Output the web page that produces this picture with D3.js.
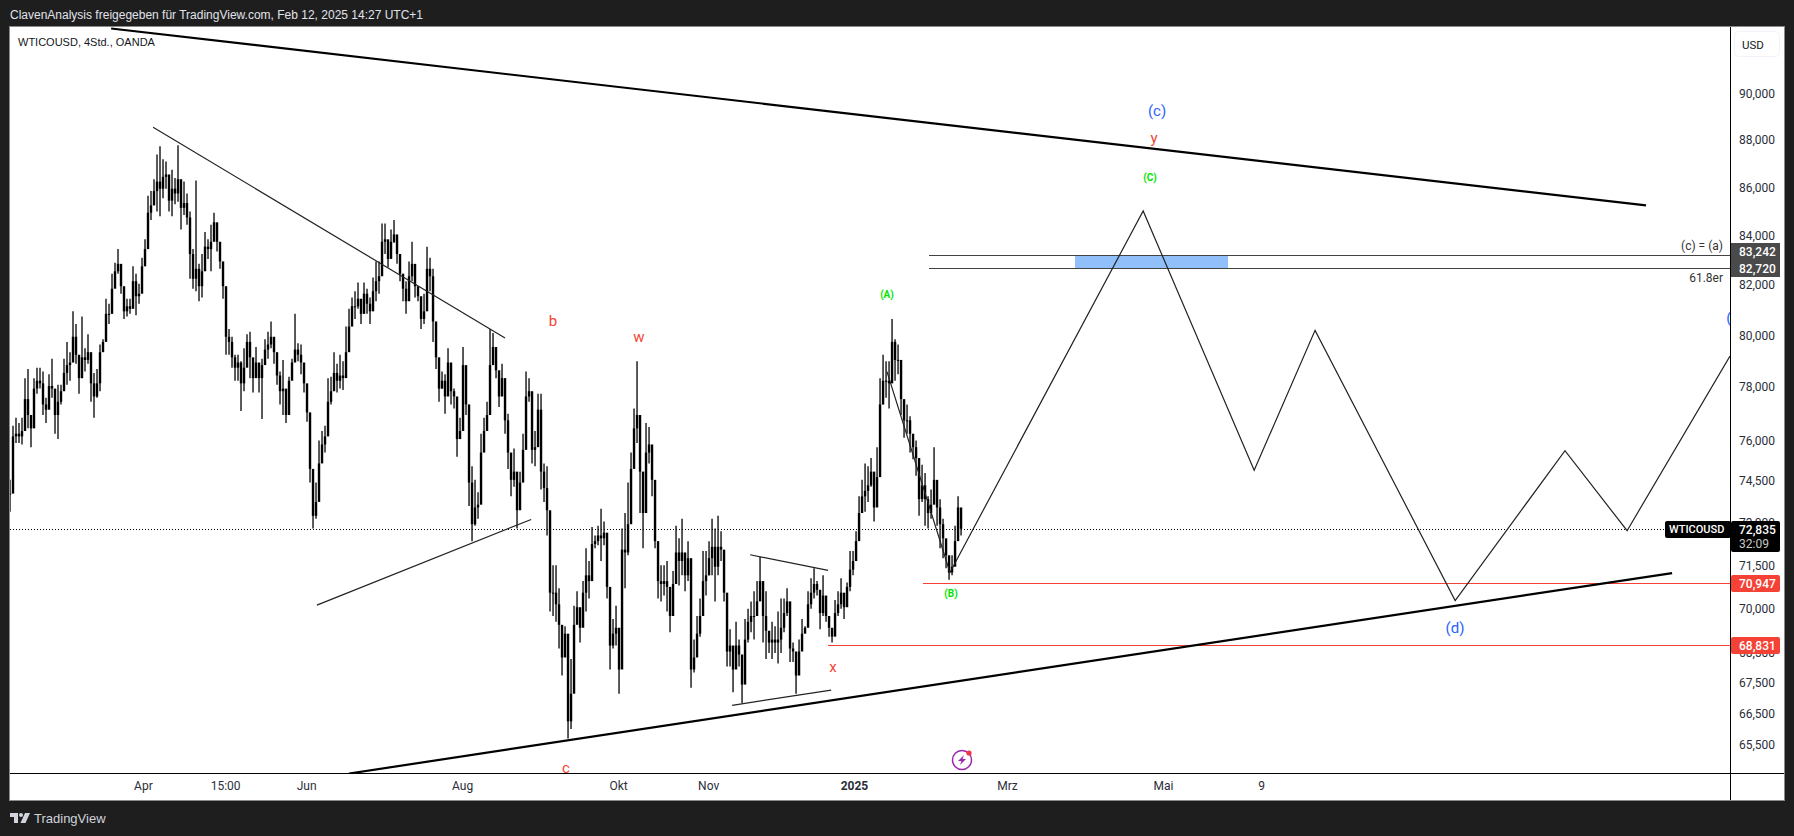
<!DOCTYPE html>
<html>
<head>
<meta charset="utf-8">
<script src="https://cdn.jsdelivr.net/npm/d3@7"></script>
<style>
  html, body { margin: 0; padding: 0; background: #1e1e1e; }
  svg { display: block; font-family: Roboto, sans-serif; }
</style>
</head>
<body>
<svg id="chart" width="1794" height="836"></svg>
<script>
// 4h bars thinned to one entry per 3px of the original chart, prices
const highs = [
  74.60,76.60,76.90,76.70,76.90,78.40,78.75,76.70,78.40,78.80,78.80,78.65,77.65,78.55,79.15,77.80,78.15,78.15,79.15,79.80,
  79.40,81.00,80.50,79.05,80.80,79.55,80.10,79.05,78.60,78.75,79.70,79.90,81.50,81.30,82.50,82.95,83.50,82.30,81.80,81.50,
  81.50,82.80,82.50,82.10,83.15,83.90,85.70,85.90,86.40,87.45,87.80,87.25,87.15,85.90,86.80,86.45,87.85,86.00,86.30,85.80,
  85.05,83.50,86.35,82.90,83.30,84.20,83.90,84.50,85.00,84.30,83.70,82.60,81.90,80.30,80.00,79.30,79.30,79.05,79.55,80.10,
  80.20,79.05,79.60,78.95,79.15,79.90,80.20,80.60,79.80,78.85,78.65,79.10,77.45,78.45,79.15,80.90,79.75,79.70,78.95,77.60,
  76.80,74.00,74.50,76.05,76.40,76.60,78.40,78.45,79.40,78.95,79.30,79.05,80.40,81.10,81.55,81.80,82.15,81.30,82.15,81.90,
  81.55,82.35,83.00,83.00,84.55,84.55,83.75,84.30,84.70,83.70,82.95,82.50,82.20,83.00,83.80,82.60,81.95,81.30,81.70,83.60,
  83.15,82.70,79.80,79.15,78.65,78.55,79.55,78.55,78.00,76.80,76.90,79.60,77.95,76.05,75.10,74.60,74.15,76.30,76.90,77.50,
  80.30,80.15,79.15,78.00,78.95,77.15,77.05,75.20,75.75,74.25,74.90,76.30,78.65,78.40,76.30,76.40,77.80,77.80,75.20,75.10,
  72.25,71.55,71.55,70.75,69.45,69.45,66.80,68.35,70.15,70.65,69.95,71.00,72.15,71.70,72.90,72.60,72.95,73.55,73.10,71.10,
  69.80,69.70,70.15,69.10,72.85,73.40,74.50,75.60,77.25,79.05,75.95,74.85,76.70,76.55,75.30,72.60,71.70,71.55,71.55,71.70,
  70.30,71.35,72.95,72.50,73.20,71.55,72.40,68.90,69.00,69.80,70.40,72.05,72.05,72.40,73.20,72.85,73.30,72.75,71.00,69.10,
  69.35,68.70,69.60,69.00,68.00,69.70,70.05,70.30,70.65,71.00,71.85,70.75,70.65,69.25,69.60,69.45,69.95,70.40,70.40,70.75,
  69.00,68.90,68.25,69.00,69.70,69.45,70.65,71.10,71.45,71.00,70.40,71.20,70.05,69.70,69.25,70.35,70.65,71.10,70.40,70.95,
  72.05,72.05,72.75,74.00,74.60,75.20,75.10,75.40,74.15,75.80,78.40,79.30,79.05,79.05,80.70,79.90,79.70,78.30,77.50,77.40,
  76.95,76.15,76.05,74.60,75.15,74.85,74.00,74.25,75.80,74.25,73.90,73.20,72.40,71.70,71.90,72.95,74.00,73.55
]
const lows = [
  73.45,75.80,75.95,75.95,75.90,77.00,76.50,75.80,77.65,77.80,78.00,77.00,76.70,77.65,77.65,76.30,76.10,77.40,78.00,78.15,
  78.30,79.40,78.95,77.80,78.40,78.65,78.95,77.50,76.90,77.65,77.90,79.55,80.10,80.50,81.10,82.20,82.50,81.70,80.70,80.80,
  80.90,81.55,80.85,81.30,81.90,82.90,84.20,84.70,85.45,85.05,84.85,85.60,86.00,85.05,84.85,85.35,85.45,84.30,84.90,84.50,
  82.30,81.90,81.80,81.40,81.55,82.90,83.10,82.60,84.10,83.40,82.70,81.50,79.30,79.30,78.80,78.30,78.30,77.15,77.90,79.40,
  78.40,77.85,78.65,77.85,76.85,79.05,79.15,79.55,78.95,78.15,77.40,77.00,76.70,78.15,78.95,79.15,79.05,78.55,77.85,76.75,
  74.50,72.85,73.20,74.35,75.45,75.60,76.30,77.40,78.15,77.85,78.00,77.95,78.65,79.70,80.80,80.70,81.10,80.50,81.30,80.90,
  80.50,81.10,81.40,81.70,83.00,83.30,82.75,83.30,83.75,82.90,82.20,81.40,80.90,81.80,82.20,81.55,81.40,80.30,80.50,81.95,
  81.80,79.80,78.75,77.50,78.00,77.05,78.55,77.40,77.25,75.45,76.15,78.40,77.00,73.65,72.40,72.95,73.20,75.10,76.05,76.40,
  77.50,79.15,78.40,77.30,77.90,76.30,75.00,74.00,74.35,72.85,74.15,75.10,76.80,77.50,75.20,75.10,76.50,74.25,73.80,72.60,
  69.95,69.80,69.60,68.70,67.80,68.90,65.75,66.05,68.90,69.60,68.90,70.15,69.95,70.40,71.70,72.15,72.25,71.70,72.25,70.40,
  68.00,68.70,68.80,67.20,71.45,70.75,71.90,74.30,75.70,75.95,73.40,72.15,74.50,75.20,74.00,72.15,70.40,70.30,70.50,69.95,
  69.25,70.30,71.20,70.85,71.20,70.65,71.00,67.40,67.90,68.55,69.10,69.95,70.50,71.20,71.20,70.30,71.20,71.70,70.30,68.10,
  68.10,67.25,68.10,68.10,66.90,68.25,68.90,69.25,69.00,69.80,70.65,68.90,68.35,68.55,68.35,68.55,68.20,68.55,69.25,69.80,
  68.25,68.25,67.20,68.10,68.70,69.25,69.70,70.05,70.40,70.50,69.35,69.80,69.60,69.10,68.90,69.35,69.80,70.05,69.70,70.65,
  70.65,71.20,72.05,72.75,73.45,73.45,73.80,74.35,73.10,73.90,76.30,77.40,77.65,77.25,78.80,78.30,78.55,77.00,76.15,76.30,
  75.60,75.35,74.75,73.30,73.80,72.95,72.85,73.20,73.80,72.95,72.15,71.80,71.45,71.05,71.20,71.80,73.20,72.60
]
const closes = [
  74.1,76.2,76.3,76.2,76.4,77.6,77.0,76.5,78.0,78.3,78.2,77.4,77.2,78.1,78.0,77.0,77.5,77.9,78.6,78.9,
  79.0,80.0,79.3,78.4,79.2,79.1,79.4,78.2,77.7,78.2,79.4,79.8,80.9,80.9,81.9,82.6,82.9,82.0,81.0,81.2,
  81.1,82.2,81.6,81.7,82.8,83.5,85.0,85.3,85.9,86.3,86.0,86.5,86.6,85.5,86.0,85.8,86.4,85.2,85.4,84.8,
  83.3,82.3,82.7,82.0,82.6,83.6,83.5,83.8,84.6,83.8,83.0,82.0,80.0,79.8,79.2,78.8,79.0,78.2,78.8,79.8,
  79.2,78.4,79.0,78.4,78.9,79.5,79.7,80.0,79.4,78.5,77.9,78.0,77.0,78.3,79.0,79.5,79.3,79.0,78.2,77.1,
  75.0,73.3,73.8,75.2,75.9,76.2,77.5,77.9,78.6,78.3,78.5,78.4,79.4,80.4,81.2,81.2,81.5,80.9,81.7,81.3,
  81.0,81.8,82.2,82.4,83.8,83.9,83.1,83.8,84.1,83.3,82.5,81.9,81.4,82.4,82.9,82.0,81.6,80.7,81.0,82.7,
  82.4,80.6,79.2,78.0,78.3,77.7,79.0,77.9,77.7,76.1,76.4,78.9,77.4,74.5,73.0,73.6,73.7,75.6,76.4,77.0,
  78.9,79.6,78.7,77.7,78.4,76.8,75.6,74.6,74.9,73.5,74.5,75.7,77.7,77.9,75.7,75.8,77.2,74.9,74.3,73.5,
  70.6,70.6,70.2,69.5,68.4,69.2,66.3,67.2,69.5,70.1,69.4,70.6,71.2,71.0,72.3,72.4,72.6,72.5,72.7,70.8,
  68.8,69.2,69.4,68.0,72.1,72.0,73.0,75.0,76.5,77.0,74.9,73.4,75.6,75.9,74.6,72.4,71.0,70.9,71.0,70.8,
  69.8,70.9,72.0,71.7,72.0,71.2,71.8,68.0,68.4,69.2,69.8,71.0,71.2,71.8,72.2,71.5,72.2,72.1,70.6,68.6,
  68.8,68.0,68.8,68.5,67.5,69.0,69.6,69.8,69.8,70.3,71.0,69.8,69.3,68.9,69.0,68.9,69.0,69.4,69.9,70.3,
  68.7,68.6,67.8,68.6,69.2,69.4,70.2,70.6,70.9,70.7,69.9,70.5,69.8,69.4,69.1,69.9,70.2,70.6,70.1,70.8,
  71.4,71.7,72.4,73.4,74.0,74.2,74.4,74.9,73.6,74.7,77.4,78.3,78.3,78.2,79.8,79.1,79.1,77.6,76.8,76.8,
  76.3,75.8,75.4,73.9,74.4,73.9,73.4,73.7,74.6,73.6,73.0,72.5,71.9,71.3,71.5,72.4,73.6,72.84
]

// axis labels
const priceTicks = [90, 88, 86, 84, 82, 80, 78, 76, 74.5, 73, 71.5, 70, 68.5, 67.5, 66.5, 65.5]
const timeTicks = [44.3, 71.7, 98.7, 150.7, 202.7, 232.7, 281.3, 332.3, 384.3, 417]
const timeLabels = ["Apr", "15:00", "Jun", "Aug", "Okt", "Nov", "2025", "Mrz", "Mai", "9"]

// drawings, as [bar, price]
const thickLines = [
  [[33.7, 93.0], [545.3, 85.3]],
  [[113, 64.63], [554, 71.28]]
]
const thinLines = [
  [[47.7, 88.62], [165, 79.95]],
  [[102.3, 70.17], [173.7, 73.17]],
  [[246.7, 71.92], [272.7, 71.37]],
  [[240.7, 66.82], [273.7, 67.32]]
]
const projection = [
  [292.3, 78.65], [313.3, 71.3], [377.7, 85.07], [414.7, 74.95], [435, 80.25],
  [481.7, 70.33], [518.3, 75.67], [539, 72.77], [573.3, 79.25]
]
const lastPrice = 72.835
const fibHigh = 83.242
const fibLow = 82.72
const stopHigh = 70.947
const stopLow = 68.831

const fmt = d3.formatLocale({ decimal: ",", thousands: ".", grouping: [3], currency: ["", "$"] }).format(".3f")

const svg = d3.select("#chart")

const plotLeft = 10, plotTop = 27, plotRight = 1730, plotBottom = 773, outerRight = 1784, outerBottom = 800
const yOffset = 1.5  // tick labels sit a little above their price level

const x = d3.scaleLinear().domain([0, 573.3]).range([plotLeft, plotRight])
const y = d3.scaleLog().domain([64.6, 93.0]).range([plotBottom + yOffset, plotTop + yOffset])
const yLine = p => Math.round(y(p)) + 0.5

// Frame
svg.append("rect")
  .attr("x", plotLeft - 0.5).attr("y", plotTop - 0.5)
  .attr("width", outerRight - plotLeft + 1).attr("height", outerBottom - plotTop + 1)
  .attr("fill", "#fff").attr("stroke", "#8a8a8a")

svg.append("clipPath").attr("id", "plot")
  .append("rect")
  .attr("x", plotLeft).attr("y", plotTop)
  .attr("width", plotRight - plotLeft).attr("height", plotBottom - plotTop)

const g = svg.append("g").attr("clip-path", "url(#plot)")

// Fib zone
g.append("rect")
  .attr("x", x(355)).attr("width", x(406) - x(355))
  .attr("y", yLine(fibHigh)).attr("height", yLine(fibLow) - yLine(fibHigh))
  .attr("fill", "#90bff9")

// Last price line
g.append("line")
  .attr("x1", plotLeft).attr("x2", 1665)
  .attr("y1", yLine(lastPrice)).attr("y2", yLine(lastPrice))
  .attr("stroke", "#000").attr("stroke-dasharray", "1,2")

// Bars
const bars = g.append("g").selectAll("g")
  .data(d3.range(highs.length))
  .join("g")

bars.append("line")
  .attr("x1", i => x(i)).attr("x2", i => x(i))
  .attr("y1", i => y(highs[i])).attr("y2", i => y(lows[i]))
  .attr("stroke", "#000").attr("stroke-width", 1.3)

bars.append("rect")
  .attr("x", i => x(i) - 1.2)
  .attr("width", 2.4)
  .attr("y", i => y(Math.max(closes[i], closes[Math.max(i - 1, 0)])))
  .attr("height", i => Math.max(1, Math.abs(y(closes[i]) - y(closes[Math.max(i - 1, 0)]))))
  .attr("fill", "#000")

// Horizontal levels
const levels = [
  { price: fibHigh, bar: 306.3, color: "#434343" },
  { price: fibLow, bar: 306.3, color: "#434343" },
  { price: stopHigh, bar: 304.3, color: "#f44336" },
  { price: stopLow, bar: 272.7, color: "#f44336" }
]
g.selectAll(".level")
  .data(levels)
  .join("line")
  .attr("class", "level")
  .attr("x1", d => x(d.bar)).attr("x2", plotRight)
  .attr("y1", d => yLine(d.price)).attr("y2", d => yLine(d.price))
  .attr("stroke", d => d.color).attr("stroke-width", 1)
  .attr("shape-rendering", "crispEdges")

// Trend lines
const lineGen = d3.line().x(d => x(d[0])).y(d => y(d[1]))

g.selectAll(".thin")
  .data(thinLines)
  .join("path")
  .attr("class", "thin")
  .attr("d", lineGen)
  .attr("fill", "none").attr("stroke", "#222").attr("stroke-width", 1.2)

g.selectAll(".thick")
  .data(thickLines)
  .join("path")
  .attr("class", "thick")
  .attr("d", lineGen)
  .attr("fill", "none").attr("stroke", "#000").attr("stroke-width", 2.2)

g.append("path")
  .attr("d", lineGen(projection))
  .attr("fill", "none").attr("stroke", "#222").attr("stroke-width", 1.2)

// Wave labels
const BLUE = "#2962ff", RED = "#f44336", GREEN = "#00e600"
const waveLabels = [
  ["(c)", 1157, 111, BLUE, 15, 400],
  ["y", 1154, 138, RED, 15, 400],
  ["(C)", 1150, 177, GREEN, 10, 700],
  ["(A)", 887, 294, GREEN, 10, 700],
  ["(B)", 951, 593, GREEN, 10, 700],
  ["b", 553, 321, RED, 15, 400],
  ["w", 639, 337, RED, 15, 400],
  ["x", 833, 667, RED, 15, 400],
  ["c", 566, 768, RED, 15, 400],
  ["(d)", 1455, 628, BLUE, 15, 400],
  ["(e)", 1735.5, 318, BLUE, 15, 400]
]
g.selectAll(".wave")
  .data(waveLabels)
  .join("text")
  .attr("class", "wave")
  .attr("x", d => d[1]).attr("y", d => d[2])
  .attr("dy", "0.35em")
  .attr("text-anchor", "middle")
  .attr("fill", d => d[3])
  .attr("font-size", d => d[4])
  .attr("font-weight", d => d[5])
  .text(d => d[0])

g.append("text").attr("x", 1723).attr("y", 246).attr("dy", "0.35em").attr("text-anchor", "end")
  .attr("font-size", 12).attr("fill", "#333").text("(c) = (a)")
g.append("text").attr("x", 1723).attr("y", 278).attr("dy", "0.35em").attr("text-anchor", "end")
  .attr("font-size", 12).attr("fill", "#333").text("61.8er")

// Event icon
const icon = g.append("g").attr("transform", "translate(962,760)")
icon.append("circle").attr("r", 9.5).attr("fill", "#fff").attr("stroke", "#9c27b0").attr("stroke-width", 1.5)
icon.append("path").attr("d", "M2,-5 L-4,1 L-0.5,1 L-2,5 L4,-1 L0.5,-1 Z").attr("fill", "#9c27b0")
icon.append("circle").attr("cx", 7).attr("cy", -7).attr("r", 2.6).attr("fill", "#f23645")

// Axes
const yAxis = d3.axisRight(y).tickValues(priceTicks).tickSize(0).tickPadding(9).tickFormat(fmt)
const yG = svg.append("g").attr("transform", `translate(${plotRight},${-yOffset})`).call(yAxis)
yG.select(".domain").remove()
yG.selectAll("text").attr("font-size", 12).attr("font-family", "Roboto").attr("fill", "#2a2e39")

const xAxis = d3.axisBottom(x).tickValues(timeTicks).tickSize(0).tickPadding(8)
  .tickFormat((d, i) => timeLabels[i])
const xG = svg.append("g").attr("transform", `translate(0,${plotBottom})`).call(xAxis)
xG.select(".domain").remove()
xG.selectAll("text").attr("font-size", 12).attr("font-family", "Roboto").attr("fill", "#2a2e39")
  .attr("font-weight", d => d === 281.3 ? 700 : 400)

// Axis borders
svg.append("line").attr("x1", plotRight + 0.5).attr("x2", plotRight + 0.5).attr("y1", plotTop).attr("y2", outerBottom).attr("stroke", "#000")
svg.append("line").attr("x1", plotLeft).attr("x2", outerRight).attr("y1", plotBottom + 0.5).attr("y2", plotBottom + 0.5).attr("stroke", "#000")

// Currency button
svg.append("rect").attr("x", 1734.5).attr("y", 31.5).attr("width", 45).attr("height", 25).attr("rx", 4)
  .attr("fill", "#fff").attr("stroke", "#f0f3fa")
svg.append("text").attr("x", 1753).attr("y", 44.5).attr("dy", "0.35em").attr("text-anchor", "middle")
  .attr("font-size", 11.5).attr("fill", "#131722").text("USD")

// Price tags, the two fib tags are pushed apart so they stack
const tags = [
  { price: fibHigh, color: "#4a4a4a", nudge: -4 },
  { price: fibLow, color: "#4a4a4a", nudge: 0 },
  { price: stopHigh, color: "#f44336", nudge: 0 },
  { price: stopLow, color: "#f44336", nudge: 0 }
]
const tag = svg.selectAll(".tag").data(tags).join("g").attr("class", "tag")
tag.append("rect")
  .attr("x", plotRight + 1).attr("width", 49)
  .attr("y", d => yLine(d.price) + d.nudge - 8.5).attr("height", 17)
  .attr("rx", d => d.color === "#f44336" ? 2 : 0)
  .attr("fill", d => d.color)
tag.append("text")
  .attr("x", plotRight + 9).attr("y", d => yLine(d.price) + d.nudge).attr("dy", "0.35em")
  .attr("font-size", 12).attr("font-weight", 500).attr("fill", "#fff")
  .text(d => fmt(d.price))

// Last price tag
const yLast = yLine(lastPrice)
svg.append("rect").attr("x", 1665).attr("y", yLast - 8.5).attr("width", 66).attr("height", 17).attr("rx", 2).attr("fill", "#000")
svg.append("rect").attr("x", plotRight + 1).attr("y", yLast - 8.5).attr("width", 49).attr("height", 31).attr("rx", 2).attr("fill", "#000")
svg.append("text").attr("x", 1669).attr("y", yLast).attr("dy", "0.35em").attr("font-size", 11).attr("font-weight", 500)
  .attr("fill", "#fff").text("WTICOUSD")
svg.append("text").attr("x", plotRight + 9).attr("y", yLast).attr("dy", "0.35em").attr("font-size", 12).attr("font-weight", 500)
  .attr("fill", "#fff").text(fmt(lastPrice))
svg.append("text").attr("x", plotRight + 9).attr("y", yLast + 14).attr("dy", "0.35em").attr("font-size", 12)
  .attr("fill", "#c8c8c8").text("32:09")

// Header and footer
svg.append("text").attr("x", 10).attr("y", 15).attr("dy", "0.35em")
  .attr("font-family", "Liberation Sans").attr("font-size", 12).attr("fill", "#e0e3eb")
  .text("ClavenAnalysis freigegeben für TradingView.com, Feb 12, 2025 14:27 UTC+1")
svg.append("text").attr("x", 18).attr("y", 42).attr("dy", "0.35em")
  .attr("font-family", "Liberation Sans").attr("font-size", 11).attr("fill", "#131722")
  .text("WTICOUSD, 4Std., OANDA")

const logo = svg.append("g").attr("transform", "translate(10,813)").attr("fill", "#d1d4dc")
logo.append("path").attr("d", "M0,0 H8 V10 H4 V4 H0 Z")
logo.append("circle").attr("cx", 11).attr("cy", 2).attr("r", 2)
logo.append("path").attr("d", "M15,0 H20 L15.5,10 H10.5 Z")
svg.append("text").attr("x", 34).attr("y", 818).attr("dy", "0.35em")
  .attr("font-family", "Liberation Sans").attr("font-size", 13).attr("fill", "#d1d4dc").text("TradingView")
</script>
</body>
</html>
